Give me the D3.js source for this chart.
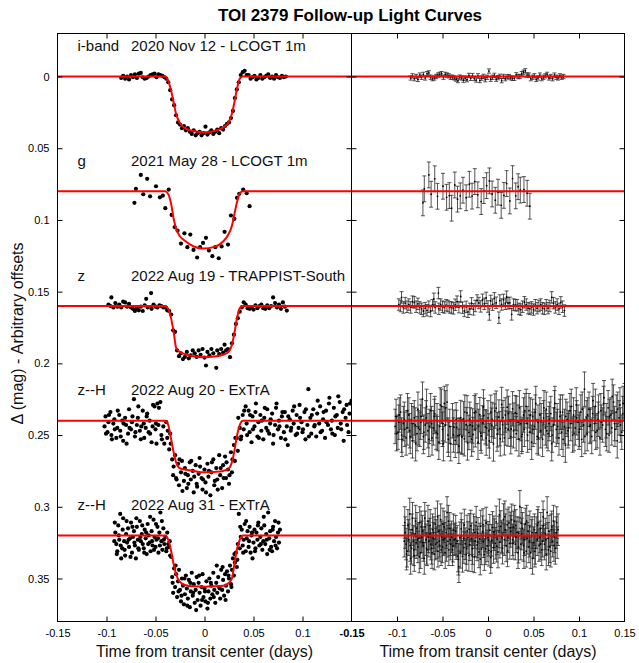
<!DOCTYPE html>
<html><head><meta charset="utf-8">
<script src="https://cdn.jsdelivr.net/npm/d3@7"></script>
<style>body{margin:0;background:#fff}svg{display:block}text{font-family:"Liberation Sans",Arial,Helvetica,sans-serif}</style>
</head><body><svg id="c" width="639" height="663"></svg>
<script>
// ---------- data ----------
const xTicks = [-0.15,-0.1,-0.05,0,0.05,0.1,0.15];
const xTickLabels = ["-0.15","-0.1","-0.05","0","0.05","0.1","0.15"];
const yTicks = [0,0.05,0.1,0.15,0.2,0.25,0.3,0.35];
const yTickLabels = ["0","0.05","0.1","0.15","0.2","0.25","0.3","0.35"];
const offsets = [0,0.08,0.16,0.24,0.32];
const filters = ["i-band","g","z","z--H","z--H"];
const dates = ["2020 Nov 12 - LCOGT 1m","2021 May 28 - LCOGT 1m","2022 Aug 19 - TRAPPIST-South","2022 Aug 20 - ExTrA","2022 Aug 31 - ExTrA"];
const errs = [0.0015,0.009,0.004,0.012,0.011];

const modelT   = [-0.15,-0.040,-0.037,-0.034,-0.0315,-0.029,-0.0255,-0.020,-0.011,-0.001,0.010,0.019,0.0245,0.028,0.0305,0.033,0.036,0.039,0.15];
const modelI   = [0,0,.003,.010,.018,.026,.032,.036,.038,.039,.038,.0355,.032,.026,.018,.009,.0015,0,0];
const modelG   = [0,0,.002,.009,.019,.026,.031,.0345,.0385,.040,.0388,.035,.030,.024,.016,.008,.0015,0,0];
const modelZ   = [0,0,.002,.009,.018,.029,.032,.0335,.035,.0357,.0352,.034,.032,.027,.019,.009,.0015,0,0];
const modelX20 = [0,0,.003,.013,.022,.029,.033,.034,.035,.036,.0357,.035,.0335,.029,.021,.011,.003,0,0];
const modelX31 = [0,0,.003,.011,.020,.027,.032,.0345,.0355,.0357,.0355,.035,.0333,.030,.020,.010,.003,0,0];

const dataI = [[-.085,.001],[-.083,-.0005],[-.081,.0015],[-.079,0],[-.077,.002],[-.075,-.001],[-.073,.0005],[-.071,-.0015],[-.069,.001],[-.067,-.002],[-.065,-.0025],[-.063,.0005],[-.061,.0015],[-.059,.001],[-.057,0],[-.055,-.001],[-.053,-.0015],[-.051,-.002],[-.049,.0005],[-.047,-.0015],[-.045,-.001],[-.043,-.0005],[-.041,.0005],[-.039,.0015],[-.037,.004],[-.035,.0095],[-.033,.016],[-.031,.020],[-.029,.027],[-.027,.032],[-.025,.0335],[-.023,.036],[-.021,.0345],[-.019,.0375],[-.017,.036],[-.015,.0385],[-.013,.040],[-.011,.0375],[-.009,.041],[-.007,.0395],[-.005,.0385],[-.003,.041],[-.001,.0395],[.001,.035],[.003,.0405],[.005,.039],[.007,.0375],[.009,.040],[.011,.0385],[.013,.037],[.015,.0395],[.017,.036],[.019,.037],[.021,.0345],[.023,.033],[.025,.032],[.027,.029],[.029,.024],[.031,.015],[.033,.009],[.035,.004],[.037,-.001],[.039,-.003],[.041,-.004],[.043,-.001],[.045,-.001],[.047,.0015],[.049,.0005],[.051,-.0005],[.053,.002],[.055,.001],[.057,-.001],[.059,.0015],[.061,.0005],[.063,-.0005],[.065,-.0015],[.067,.001],[.069,0],[.071,.0015],[.073,-.001],[.075,.0005],[.077,.001],[.079,-.0005],[.081,.0005],[.083,0]];

const dataG = [[-.0715,.0081],[-.070,-.0017],[-.065,-.0114],[-.0625,.0021],[-.0585,-.0087],[-.0555,.0035],[-.0495,-.0035],[-.0455,.0042],[-.0425,.003],[-.040,.0118],[-.0365,-.0012],[-.0335,.0165],[-.0305,.025],[-.0275,.0274],[-.024,.0365],[-.0205,.0293],[-.0175,.039],[-.0145,.0302],[-.0112,.0409],[-.0075,.0462],[-.0045,.039],[-.0015,.036],[.0015,.0325],[.0045,.0413],[.008,.0453],[.011,.039],[.0145,.0467],[.0175,.0385],[.0205,.0283],[.024,.0372],[.027,.0169],[.0305,.0192],[.0331,.0046],[.0355,.0018],[.0395,-.0012],[.043,.0014],[.046,.0104]];

const dataZ = [[-.098,-.001],[-.096,0],[-.095,-.006],[-.093,.001],[-.091,-.002],[-.089,.0005],[-.087,-.001],[-.085,.001],[-.083,-.003],[-.081,-.0025],[-.079,.0005],[-.077,-.0015],[-.075,.001],[-.073,.002],[-.071,.0035],[-.069,.0015],[-.067,.003],[-.065,.0005],[-.063,.0035],[-.061,-.0005],[-.0595,-.005],[-.058,.001],[-.0545,-.009],[-.054,.002],[-.052,-.001],[-.050,.0005],[-.048,.001],[-.046,-.0005],[-.044,0],[-.042,.001],[-.040,.001],[-.038,.003],[-.036,.0035],[-.034,.006],[-.032,.017],[-.030,.018],[-.028,.031],[-.026,.035],[-.024,.033],[-.022,.037],[-.020,.0355],[-.018,.032],[-.016,.0365],[-.014,.0345],[-.012,.031],[-.010,.033],[-.008,.0355],[-.006,.031],[-.004,.034],[-.002,.030],[0,.036],[.0015,.0415],[.003,.032],[.005,.0345],[.007,.030],[.009,.033],[.012,.0431],[.013,.031],[.015,.0335],[.017,.030],[.019,.0325],[.0205,.027],[.022,.031],[.024,.030],[.026,.0357],[.028,.026],[.030,.020],[.032,.0125],[.034,.0085],[.036,.004],[.038,.001],[.040,-.0026],[.042,-.001],[.044,.0015],[.046,.002],[.048,.001],[.050,.0025],[.052,-.0005],[.054,.0015],[.056,0],[.058,-.001],[.060,.0015],[.062,.002],[.064,-.0005],[.066,.0015],[.068,0],[.070,-.006],[.072,-.002],[.074,.001],[.076,-.001],[.078,.002],[.080,-.0025],[.082,.0005],[.084,.0032]];

const dataX20 = [[-.102,.004],[-.101,-.003],[-.099,.008],[-.098,.001],[-.096,-.006],[-.095,.010],[-.093,.002],[-.092,-.001],[-.090,.012],[-.089,.005],[-.087,-.004],[-.086,.007],[-.084,0],[-.083,.014],[-.081,-.002],[-.080,.003],[-.078,.009],[-.077,-.008],[-.075,.006],[-.074,.001],[-.072,-.015],[-.071,.011],[-.069,.003],[-.068,-.002],[-.066,.007],[-.065,.013],[-.063,-.007],[-.062,.002],[-.060,.005],[-.059,-.003],[-.057,.008],[-.056,0],[-.054,.015],[-.053,.004],[-.051,-.010],[-.050,.006],[-.049,.016],[-.048,-.012],[-.047,.003],[-.045,-.013],[-.044,.010],[-.042,.004],[-.041,.016],[-.039,.001],[-.038,.012],[-.036,.020],[-.035,.009],[-.033,.027],[-.032,.038],[-.030,.024],[-.029,.040],[-.027,.030],[-.026,.045],[-.024,.036],[-.023,.028],[-.021,.042],[-.020,.033],[-.018,.047],[-.017,.038],[-.015,.029],[-.014,.041],[-.012,.035],[-.011,.050],[-.009,.031],[-.008,.044],[-.006,.037],[-.005,.026],[-.003,.040],[-.002,.048],[0,.034],[.001,.043],[.003,.030],[.004,.039],[.006,.052],[.007,.036],[.009,.027],[.010,.045],[.012,.033],[.013,.041],[.015,.024],[.016,.038],[.018,.047],[.019,.031],[.021,.025],[.022,.040],[.024,.034],[.025,.044],[.027,.022],[.028,.036],[.030,.017],[.031,.028],[.033,.012],[.034,.021],[.036,.005],[.037,.013],[.039,-.004],[.040,.006],[.042,-.010],[.043,.002],[.045,-.007],[.046,.008],[.048,.015],[.049,-.003],[.051,.004],[.052,-.006],[.054,.011],[.055,.001],[.057,-.004],[.058,.007],[.060,.013],[.061,-.002],[.063,.005],[.064,-.008],[.066,.009],[.067,.002],[.069,-.005],[.070,.016],[.072,.003],[.073,-.009],[.075,.006],[.076,0],[.078,.012],[.079,-.003],[.081,.008],[.082,-.006],[.084,.004],[.085,.017],[.087,-.001],[.088,.007],[.090,-.007],[.091,.002],[.093,.010],[.094,-.004],[.096,.005],[.097,-.011],[.099,.001],[.100,.008],[.102,-.006],[.103,.013],[.105,.003],[.106,-.022],[.108,-.002],[.109,.009],[.111,-.008],[.112,.004],[.114,.011],[.115,-.005],[.117,.002],[.118,-.010],[.120,.007],[.121,-.001],[.123,.012],[.124,-.007],[.126,.003],[.127,-.012],[.129,.006],[.130,0],[.132,-.009],[.133,.010],[.135,-.004],[.136,.005],[.138,-.013],[.139,.002],[.141,-.006],[.142,.014],[.144,-.002],[.145,-.011],[.147,.008],[.148,-.005],[.150,-.014]];
// second ExTrA telescope, same night
const dataX20b = [[-.1005,.009],[-.0975,-.004],[-.0945,.013],[-.0915,.006],[-.0885,-.007],[-.0855,.011],[-.0825,.002],[-.0795,.016],[-.0765,.005],[-.0735,-.003],[-.0705,.008],[-.0675,-.010],[-.0645,.004],[-.0615,.012],[-.0585,-.005],[-.0555,.009],[-.0525,-.011],[-.0495,.002],[-.0465,-.009],[-.0435,.013],[-.0375,.007],[-.0345,.016],[-.0315,.032],[-.0285,.041],[-.0255,.027],[-.0225,.049],[-.0195,.037],[-.0165,.044],[-.0135,.028],[-.0105,.039],[-.0075,.046],[-.0045,.032],[-.0015,.041],[.0015,.050],[.0045,.035],[.0075,.029],[.0105,.042],[.0135,.048],[.0165,.033],[.0195,.040],[.0225,.029],[.0255,.038],[.0285,.027],[.0315,.012],[.0345,-.002],[.0375,.011],[.0405,-.007],[.0435,.010],[.0465,-.004],[.0495,.006],[.0525,-.012],[.0555,.012],[.0585,0],[.0615,-.009],[.0645,.007],[.0675,-.001],[.0705,.010],[.0735,-.012],[.0765,.004],[.0795,-.006],[.0825,.013],[.0855,-.003],[.0885,.005],[.0915,-.010],[.0945,.009],[.0975,-.002],[.1005,.006],[.1035,-.008],[.1065,.011],[.1095,-.004],[.1125,.003],[.1155,-.014],[.1185,.008],[.1215,-.006],[.1245,.001],[.1275,-.016],[.1305,.009],[.1335,-.003],[.1365,-.017],[.1395,.006],[.1425,-.008],[.1455,.003],[.1485,-.012]];

const dataX31 = [[-.092,.004],[-.091,-.002],[-.090,.006],[-.089,.011],[-.088,-.007],[-.087,.003],[-.086,-.015],[-.085,.016],[-.084,.009],[-.083,-.012],[-.082,.004],[-.081,.014],[-.080,-.001],[-.079,.005],[-.078,-.005],[-.077,.008],[-.076,.002],[-.075,-.009],[-.074,.012],[-.073,.001],[-.072,-.003],[-.071,.007],[-.070,.016],[-.069,-.006],[-.068,.003],[-.067,.010],[-.066,-.010],[-.065,.004],[-.064,-.001],[-.063,.006],[-.062,.009],[-.061,-.004],[-.060,.002],[-.059,.013],[-.058,-.008],[-.057,0],[-.056,.005],[-.055,.011],[-.054,-.003],[-.053,.007],[-.052,-.011],[-.051,.001],[-.050,.008],[-.049,.003],[-.048,-.006],[-.047,.012],[-.046,-.002],[-.045,-.016],[-.044,.004],[-.043,.010],[-.042,-.005],[-.041,.006],[-.040,.001],[-.039,.011],[-.038,-.002],[-.037,.006],[-.036,.008],[-.035,.014],[-.034,.015],[-.033,.029],[-.032,.040],[-.031,.023],[-.030,.036],[-.029,.027],[-.028,.043],[-.027,.032],[-.026,.024],[-.025,.038],[-.024,.046],[-.023,.030],[-.022,.035],[-.021,.048],[-.020,.041],[-.019,.028],[-.018,.037],[-.017,.044],[-.016,.031],[-.015,.050],[-.014,.039],[-.013,.026],[-.012,.042],[-.011,.034],[-.010,.047],[-.009,.038],[-.008,.029],[-.007,.045],[-.006,.033],[-.005,.040],[-.004,.049],[-.003,.036],[-.002,.027],[-.001,.043],[0,.037],[.001,.046],[.002,.032],[.003,.051],[.004,.039],[.005,.030],[.006,.044],[.007,.035],[.008,.041],[.009,.026],[.010,.038],[.011,.047],[.012,.033],[.013,.040],[.014,.029],[.015,.036],[.016,.044],[.017,.024],[.018,.038],[.019,.031],[.020,.042],[.021,.027],[.022,.035],[.023,.025],[.024,.039],[.025,.030],[.026,.021],[.027,.034],[.028,.024],[.029,.016],[.030,.028],[.031,.019],[.032,.012],[.033,.022],[.034,.006],[.035,-.015],[.036,.009],[.037,.001],[.038,-.004],[.039,.007],[.040,.003],[.041,-.008],[.042,.011],[.043,.002],[.044,-.003],[.045,.008],[.046,-.006],[.047,.012],[.048,0],[.049,.016],[.050,.005],[.051,-.004],[.052,.009],[.053,-.002],[.054,.003],[.055,-.009],[.056,.007],[.057,.001],[.058,-.005],[.059,.010],[.060,.004],[.061,-.007],[.062,.006],[.063,-.001],[.064,.013],[.065,-.016],[.066,.002],[.067,-.003],[.068,.008],[.069,.011],[.070,-.006],[.071,.004],[.072,-.010],[.073,.001],[.074,.009],[.075,-.002],[.076,.005],[.077,-.004]];
const dataX31b = [[-.0915,-.009],[-.0895,.013],[-.0875,0],[-.0855,.007],[-.0835,-.004],[-.0815,.010],[-.0795,-.010],[-.0775,.003],[-.0755,.015],[-.0735,-.006],[-.0715,.005],[-.0695,-.012],[-.0675,.009],[-.0655,.001],[-.0635,-.007],[-.0615,.012],[-.0595,-.002],[-.0575,.006],[-.0555,-.013],[-.0535,.004],[-.0515,.010],[-.0495,-.008],[-.0475,.002],[-.0455,.007],[-.0435,-.010],[-.0415,.003],[-.0385,.009],[-.0355,.004],[-.0325,.033],[-.0295,.021],[-.0265,.039],[-.0235,.042],[-.0205,.030],[-.0175,.049],[-.0145,.033],[-.0115,.040],[-.0085,.052],[-.0055,.028],[-.0025,.045],[.0005,.039],[.0035,.047],[.0065,.033],[.0095,.043],[.0125,.021],[.0155,.037],[.0185,.022],[.0215,.045],[.0245,.028],[.0275,.036],[.0305,.013],[.0335,.017],[.0365,-.006],[.0395,.012],[.0425,-.010],[.0455,.004],[.0485,-.002],[.0515,.011],[.0545,-.007],[.0575,.006],[.0605,-.013],[.0635,.003],[.0665,.010],[.0695,-.004],[.0725,.007],[.0755,-.009]];

const datasets = [dataI, dataG, dataZ, dataX20.concat(dataX20b), dataX31.concat(dataX31b)];
const models = [modelI, modelG, modelZ, modelX20, modelX31];

// ---------- layout ----------
const svg = d3.select("#c");
const L = {x0:57.5, x1:351.5}, R = {x0:351.5, x1:624.5}, T = 33.5, B = 621.5;
const xL = d3.scaleLinear().domain([-0.15,0.15]).range([L.x0,L.x1]);
const xR = d3.scaleLinear().domain([-0.15,0.15]).range([R.x0,R.x1]);
const y = d3.scaleLinear().domain([-0.03,0.38]).range([T,B]);

const defs = svg.append("defs");
defs.append("clipPath").attr("id","cl").append("rect").attr("x",L.x0).attr("y",T).attr("width",L.x1-L.x0).attr("height",B-T);
defs.append("clipPath").attr("id","cr").append("rect").attr("x",R.x0).attr("y",T).attr("width",R.x1-R.x0).attr("height",B-T);

const gl = svg.append("g").attr("clip-path","url(#cl)");
const gr = svg.append("g").attr("clip-path","url(#cr)");

const lineL = d3.line().x(d=>xL(d[0])).y(d=>y(d[1])).curve(d3.curveMonotoneX);

datasets.forEach((data,k)=>{
  const off = offsets[k];
  const model = models[k];
  const interp = d3.scaleLinear().domain(modelT).range(model);
  gl.append("g").selectAll("circle").data(data).join("circle")
    .attr("cx",d=>xL(d[0])).attr("cy",d=>y(off+d[1])).attr("r",2.1).attr("fill","#000");
  const e = errs[k];
  const res = data.map(d=>[d[0], d[1]-interp(d[0])]);
  const g = gr.append("g").attr("stroke","#2a2a2a").attr("stroke-width",0.8).attr("fill","none");
  g.selectAll("path").data(res).join("path")
    .attr("d",d=>{
      const xx = xR(d[0]), y1 = y(off+d[1]-e), y2 = y(off+d[1]+e);
      return `M${xx},${y1}V${y2}M${xx-2},${y1}H${xx+2}M${xx-2},${y2}H${xx+2}`;
    });
  gr.append("g").selectAll("circle").data(res).join("circle")
    .attr("cx",d=>xR(d[0])).attr("cy",d=>y(off+d[1])).attr("r",0.9).attr("fill","#000");
});

datasets.forEach((data,k)=>{
  const off = offsets[k];
  gl.append("path").datum(modelT.map((t,i)=>[t, off+models[k][i]]))
    .attr("d",lineL).attr("fill","none").attr("stroke","#ff0000").attr("stroke-width",2);
  gr.append("line").attr("x1",R.x0).attr("x2",R.x1).attr("y1",y(off)).attr("y2",y(off))
    .attr("stroke","#ff0000").attr("stroke-width",2);
});

offsets.forEach((off,k)=>{
  svg.append("text").attr("x",77.5).attr("y",y(off-0.0177)).attr("font-size",15).attr("fill","#111").text(filters[k]);
  svg.append("text").attr("x",131).attr("y",y(off-0.0177)).attr("font-size",15).attr("fill","#111").text(dates[k]);
});

function styleAxis(g){
  g.select(".domain").remove();
  g.selectAll("line").attr("stroke","#000");
  g.selectAll("text").attr("font-size",11).attr("fill","#000").attr("font-family",'"Liberation Sans",Arial,sans-serif');
  return g;
}
const fmtX = d=>xTickLabels[xTicks.indexOf(d)];
const fmtY = d=>yTickLabels[yTicks.indexOf(d)];
const innerX = xTicks.slice(1,-1);

svg.append("g").attr("transform",`translate(${L.x0},0)`)
  .call(d3.axisLeft(y).tickValues(yTicks).tickSize(-5).tickPadding(8).tickFormat(fmtY)).call(styleAxis);
svg.append("g").attr("transform",`translate(${L.x1},0)`)
  .call(d3.axisRight(y).tickValues(yTicks).tickSize(-5).tickFormat("")).call(styleAxis);
svg.append("g").attr("transform",`translate(${R.x0},0)`)
  .call(d3.axisLeft(y).tickValues(yTicks).tickSize(-5).tickFormat("")).call(styleAxis);
svg.append("g").attr("transform",`translate(${R.x1},0)`)
  .call(d3.axisRight(y).tickValues(yTicks).tickSize(-5).tickFormat("")).call(styleAxis);

svg.append("g").attr("transform",`translate(0,${B})`)
  .call(d3.axisBottom(xL).tickValues(xTicks.slice(0,-1)).tickSize(0).tickPadding(8).tickFormat(fmtX)).call(styleAxis);
svg.append("g").attr("transform",`translate(0,${B})`)
  .call(d3.axisBottom(xL).tickValues(innerX).tickSize(-5).tickFormat("")).call(styleAxis);
const rb = svg.append("g").attr("transform",`translate(0,${B})`)
  .call(d3.axisBottom(xR).tickValues(xTicks).tickSize(0).tickPadding(8).tickFormat(fmtX)).call(styleAxis);
rb.selectAll(".tick").filter(d=>d===-0.15).select("text").attr("font-weight","bold");
svg.append("g").attr("transform",`translate(0,${B})`)
  .call(d3.axisBottom(xR).tickValues(innerX).tickSize(-5).tickFormat("")).call(styleAxis);
svg.append("g").attr("transform",`translate(0,${T})`)
  .call(d3.axisTop(xL).tickValues(innerX).tickSize(-5).tickFormat("")).call(styleAxis);
svg.append("g").attr("transform",`translate(0,${T})`)
  .call(d3.axisTop(xR).tickValues(innerX).tickSize(-5).tickFormat("")).call(styleAxis);

svg.append("rect").attr("x",L.x0).attr("y",T).attr("width",L.x1-L.x0).attr("height",B-T).attr("fill","none").attr("stroke","#000").attr("stroke-width",1);
svg.append("rect").attr("x",R.x0).attr("y",T).attr("width",R.x1-R.x0).attr("height",B-T).attr("fill","none").attr("stroke","#000").attr("stroke-width",1);

svg.append("text").attr("x",350).attr("y",21).attr("text-anchor","middle").attr("font-size",17).attr("font-weight","bold").text("TOI 2379 Follow-up Light Curves");
svg.append("text").attr("x",(L.x0+L.x1)/2).attr("y",657).attr("text-anchor","middle").attr("font-size",16).attr("fill","#111").text("Time from transit center (days)");
svg.append("text").attr("x",(R.x0+R.x1)/2).attr("y",657).attr("text-anchor","middle").attr("font-size",16).attr("fill","#111").text("Time from transit center (days)");
svg.append("text").attr("transform",`translate(22.5,${(T+B)/2+6}) rotate(-90)`).attr("text-anchor","middle").attr("font-size",16).attr("fill","#111").text("Δ (mag) - Arbitrary offsets");
</script></body></html>
